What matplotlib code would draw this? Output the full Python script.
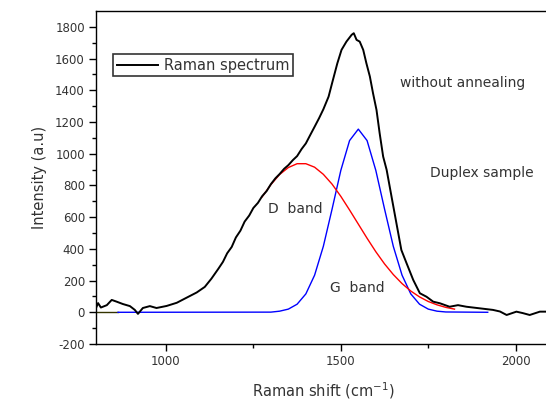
import matplotlib
matplotlib.use('Agg')
import matplotlib.pyplot as plt

# DATA
raman_x = [800, 806, 814, 831, 845, 859, 877, 897, 911, 920, 934, 954, 973, 1002, 1031,
           1059, 1088, 1111, 1130, 1150, 1163, 1175, 1188, 1200, 1213, 1225, 1238, 1250,
           1263, 1275, 1288, 1300, 1313, 1325, 1338, 1350, 1363, 1375, 1388, 1400, 1413,
           1425, 1438, 1450, 1465, 1475, 1490, 1502, 1516, 1531, 1537, 1545, 1554,
           1564, 1573, 1583, 1592, 1602, 1611, 1621, 1631, 1645, 1659, 1673, 1688, 1707,
           1726, 1745, 1764, 1783, 1811, 1835, 1859, 1897, 1935, 1955, 1974, 2002, 2020,
           2040, 2069, 2088]
raman_y = [27, 58, 30, 45, 78, 67, 52, 39, 15, -10, 27, 39, 27, 40, 60,
           92, 125, 160, 212, 275, 318, 372, 412, 472, 515, 572, 610, 658,
           690, 732, 765, 808, 845, 872, 905, 928, 960, 985, 1030, 1065, 1120,
           1170, 1225, 1280, 1360, 1445, 1570, 1655, 1707, 1750, 1760, 1718, 1707,
           1655, 1571, 1487, 1382, 1276, 1129, 982, 898, 729, 561, 393, 309, 204,
           120, 98, 67, 57, 35, 45, 35, 25, 15, 5, -17, 4, -5,
           -17, 4, 4]

d_x = [1275, 1300, 1325, 1350, 1375, 1400, 1425, 1450, 1475, 1500, 1525, 1550,
       1575, 1600, 1625, 1650, 1675, 1700, 1725, 1750, 1775, 1800, 1825]
d_y = [728, 805, 869, 913, 937, 937, 915, 870, 808, 731, 645, 556,
       467, 382, 305, 238, 181, 134, 97, 68, 47, 31, 20]

g_x = [863, 1300, 1325, 1350, 1375, 1400, 1425, 1450, 1475, 1500, 1525, 1550,
       1575, 1600, 1625, 1650, 1675, 1700, 1725, 1750, 1775, 1800, 1920]
g_y = [0, 1, 7, 20, 51, 116, 234, 416, 651, 895, 1083, 1155,
       1083, 895, 651, 416, 234, 116, 51, 20, 7, 2, 0]

base_x = [800, 863]
base_y = [0, 0]

x_ticks = [1000, 1500, 2000]
y_ticks = [-200, 0, 200, 400, 600, 800, 1000, 1200, 1400, 1600, 1800]

plt.rcParams['font.family'] = ['DejaVu Sans']
plt.rcParams['axes.unicode_minus'] = False

txt = '#333333'
fig = plt.figure(figsize=(5.46, 4.03), dpi=100)
ax = fig.add_axes([0.1758, 0.1464, 0.8328, 0.8263])

ax.plot(base_x, base_y, color='#333300', lw=1.0)
ax.plot(g_x, g_y, color='#0000ff', lw=1.0)
ax.plot(d_x, d_y, color='#ff0000', lw=1.0)
ax.plot(raman_x, raman_y, color='black', lw=1.4, label='Raman spectrum')

ax.set_xlim(800, 2100)
ax.set_ylim(-200, 1900)
ax.set_xticks(x_ticks)
ax.set_xticks([1250, 1750], minor=True)
ax.set_yticks(y_ticks)
ax.set_yticks(list(range(-100, 1900, 200)), minor=True)
ax.tick_params(which='major', direction='out', length=5, width=1, labelsize=8.5,
               labelcolor=txt, pad=3)
ax.tick_params(which='minor', direction='out', length=3, width=1)
for s in ax.spines.values():
    s.set_linewidth(1.0)

ax.set_xlabel('Raman shift (cm$^{-1}$)', fontsize=10.5, color=txt, labelpad=9)
ax.set_ylabel('Intensity (a.u)', fontsize=10.5, color=txt, labelpad=6)

ax.text(1847, 1447, 'without annealing', fontsize=10, color=txt, ha='center', va='center')
ax.text(1904, 876, 'Duplex sample', fontsize=10, color=txt, ha='center', va='center')
ax.text(1370, 652, 'D  band', fontsize=10, color=txt, ha='center', va='center')
ax.text(1547, 156, 'G  band', fontsize=10, color=txt, ha='center', va='center')

leg = ax.legend(loc='upper left', bbox_to_anchor=(0.038, 0.871), fontsize=10.5,
                frameon=True, fancybox=False, handlelength=2.8, handletextpad=0.4,
                borderpad=0.25, borderaxespad=0)
leg.get_frame().set_edgecolor('black')
leg.get_frame().set_linewidth(1.2)
for t in leg.get_texts():
    t.set_color(txt)

plt.savefig('out.png', dpi=100)
